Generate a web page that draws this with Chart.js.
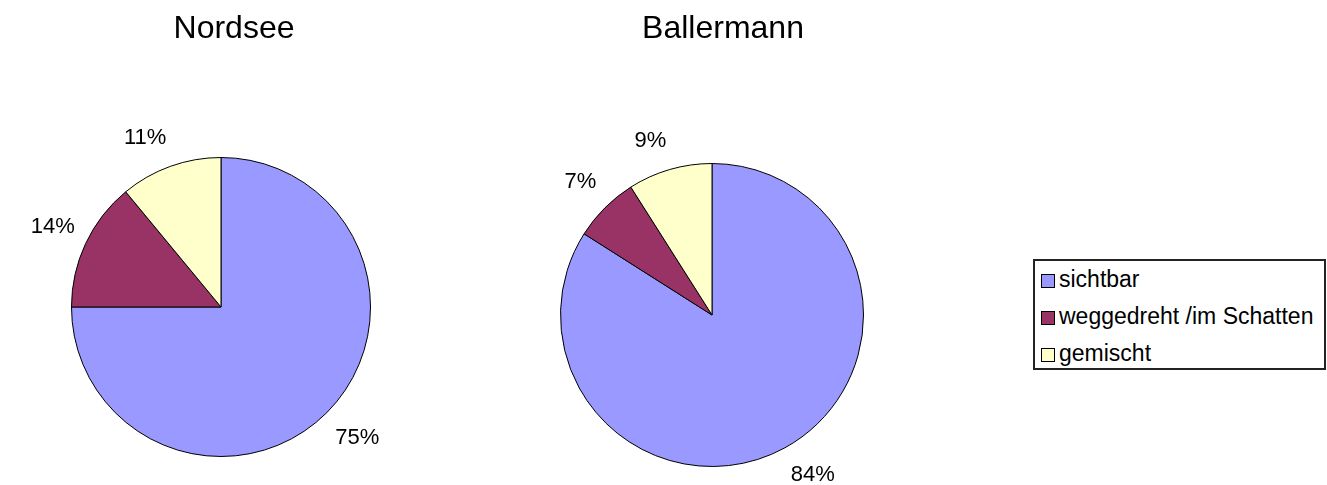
<!DOCTYPE html>
<html>
<head>
<meta charset="utf-8">
<script src="https://cdn.jsdelivr.net/npm/chart.js@4"></script>
<style>
    body { margin: 0; background: #fff; width: 1327px; height: 485px; overflow: hidden; position: relative; font-family: "Liberation Sans", Arial, sans-serif; }
    .box { position: absolute; top: 0; height: 485px; }
    .title { position: absolute; top: 11px; font-size: 32px; line-height: 32px; color: #000; text-align: center; width: 300px; }
    #legend { position: absolute; left: 1033px; top: 259px; width: 283px; height: 107px; border: 2px solid #222; padding: 0 0 0 6px; box-sizing: content-box; }
    #legend div { height: 37px; line-height: 37px; font-size: 23px; color: #000; white-space: nowrap; }
    #legend span { display: inline-block; width: 12px; height: 12px; border: 1px solid #000; margin-right: 4px; vertical-align: -1px; }
</style>
</head>
<body>
<div class="box" style="left:0;width:468px"><canvas id="nordsee"></canvas></div>
<div class="box" style="left:490px;width:466px"><canvas id="ballermann"></canvas></div>
<div class="title" id="t1" style="left:84px"></div>
<div class="title" id="t2" style="left:573px"></div>
<div id="legend"></div>

<script>
const titles = ['Nordsee', 'Ballermann'];
const categories = ['sichtbar', 'weggedreht /im Schatten', 'gemischt'];
const nordseeValues = [75, 14, 11];
const ballermannValues = [84, 7, 9];
const colors = ['#9999FF', '#993366', '#FFFFCC'];
const font = '"Liberation Sans", Arial, sans-serif';

// percentage labels outside each slice (roughly like Excel does it)
const outsideLabels = {
    id: 'outsideLabels',
    afterDatasetsDraw(chart) {
        const ctx = chart.ctx;
        const meta = chart.getDatasetMeta(0);
        const data = chart.data.datasets[0].data;
        ctx.save();
        ctx.font = '22px ' + font;
        ctx.fillStyle = '#000';
        ctx.textAlign = 'center';
        ctx.textBaseline = 'middle';
        meta.data.forEach((arc, i) => {
            const p = arc.getProps(['x', 'y', 'startAngle', 'endAngle', 'outerRadius'], true);
            const mid = (p.startAngle + p.endAngle) / 2;
            const dx = Math.cos(mid), dy = Math.sin(mid);
            const txt = data[i] + '%';
            const w = ctx.measureText(txt).width;
            const x = p.x + dx * (p.outerRadius + 12) + Math.sign(dx) * w / 2;
            const y = p.y + dy * (p.outerRadius + 12) + Math.sign(dy) * Math.min(1, Math.abs(dy) * 1.5) * 17;
            ctx.fillText(txt, x, y);
        });
        ctx.restore();
    }
};

function makePie(id, values, pad) {
    new Chart(document.getElementById(id), {
        type: 'pie',
        data: {
            labels: categories,
            datasets: [{
                data: values,
                backgroundColor: colors,
                borderColor: '#000',
                borderWidth: 1
            }]
        },
        options: {
            responsive: true,
            maintainAspectRatio: false,
            animation: false,
            layout: {padding: pad},
            plugins: {
                legend: {display: false},
                tooltip: {enabled: false}
            }
        },
        plugins: [outsideLabels]
    });
}

makePie('nordsee', nordseeValues, {left: 71, right: 97, top: 157, bottom: 28});
makePie('ballermann', ballermannValues, {left: 70, right: 92, top: 163, bottom: 18});

document.getElementById('t1').textContent = titles[0];
document.getElementById('t2').textContent = titles[1];

const legend = document.getElementById('legend');
categories.forEach((c, i) => {
    const row = document.createElement('div');
    row.innerHTML = '<span style="background:' + colors[i] + '"></span>' + c;
    legend.appendChild(row);
});
</script>
</body>
</html>
